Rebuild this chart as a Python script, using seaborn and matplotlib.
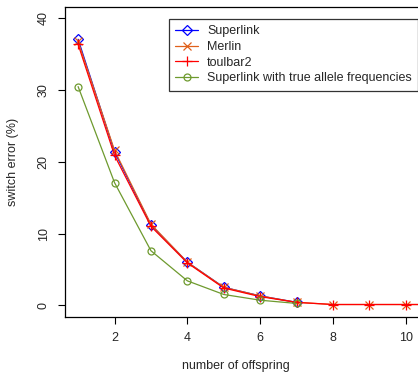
import matplotlib
matplotlib.use("Agg")
import matplotlib.pyplot as plt
import seaborn as sns
import pandas as pd

sns.set_style("white")
plt.rcParams['font.family'] = ['Liberation Sans', 'DejaVu Sans']

offspring_superlink = [1, 2, 3, 4, 5, 6, 7]
superlink = [37.1, 21.4, 11.2, 6.0, 2.5, 1.3, 0.4]
offspring_merlin = [1, 2, 3, 4, 5, 6, 7, 8, 9, 10, 11]
merlin = [36.8, 21.6, 11.3, 6.0, 2.5, 1.3, 0.4, 0.1, 0.1, 0.1, 0.1]
offspring_toulbar = [1, 2, 3, 4, 5, 6, 7, 8, 9, 10, 11]
toulbar2 = [36.4, 20.9, 11.0, 5.9, 2.4, 1.2, 0.4, 0.1, 0.1, 0.1, 0.1]
offspring_true = [1, 2, 3, 4, 5, 6, 7]
superlink_true = [30.5, 17.1, 7.6, 3.4, 1.5, 0.7, 0.25]

series = [
    ("Superlink", offspring_superlink, superlink, "#0000FF", "D", 5.5),
    ("Merlin", offspring_merlin, merlin, "#E0601A", "x", 5.5),
    ("toulbar2", offspring_toulbar, toulbar2, "#FF0000", "+", 7),
    ("Superlink with true allele frequencies", offspring_true, superlink_true, "#6E9A2E", "o", 5),
]

W, H = 418, 374
fig = plt.figure(figsize=(W / 100, H / 100), dpi=100)
left, right, top, bottom = 65, 419, 7, 316.7
ax = fig.add_axes([left / W, (H - bottom) / H, (right - left) / W, (bottom - top) / H])

for name, xs, ys, col, mk, ms in series:
    df = pd.DataFrame({"x": xs, "y": ys})
    sns.lineplot(data=df, x="x", y="y", marker=mk, color=col, linewidth=0.9,
                 markersize=ms, markeredgewidth=0.9, markerfacecolor="none",
                 markeredgecolor=col, label=name, ax=ax, legend=False)

ax.set_xlim(0.64, 10.36)
ax.set_ylim(-1.6, 41.6)
ax.set_xticks([2, 4, 6, 8, 10])
ax.set_yticks([0, 10, 20, 30, 40])
ax.tick_params(axis="both", direction="out", length=5, width=0.8, color="black",
               labelsize=9, pad=6, left=True, bottom=True)
for lab in ax.get_yticklabels():
    lab.set_rotation(90)
    lab.set_va("center")
for s in ax.spines.values():
    s.set_color("black")
    s.set_linewidth(0.9)
ax.spines["right"].set_visible(False)

ax.set_xlabel("")
ax.set_ylabel("")
fig.text(236 / W, 1 - 366 / H, "number of offspring", ha="center", va="center", fontsize=9)
fig.text(13 / W, 1 - 162 / H, "switch error (%)", rotation=90, ha="center", va="center", fontsize=9)

leg = ax.legend(loc="upper left", bbox_to_anchor=(169 / W, 1 - 19 / H),
                bbox_transform=fig.transFigure, borderaxespad=0, frameon=True,
                fancybox=False, edgecolor="black", fontsize=9, handlelength=1.8,
                handletextpad=0.75, labelspacing=0.3, borderpad=0.5)
leg.get_frame().set_linewidth(0.9)

fig.savefig("out.png", dpi=100)
